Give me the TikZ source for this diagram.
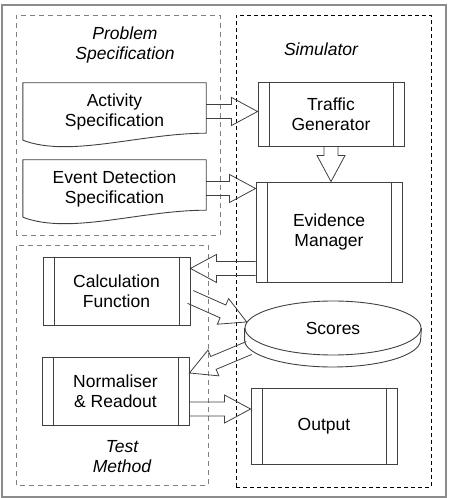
\documentclass[tikz,border=0pt]{standalone}
\usepackage{fontspec}
\setmainfont{Liberation Sans}
\usetikzlibrary{calc,shapes.geometric}

\tikzset{
  boxline/.style={draw=black!75, line width=0.9pt},
  procbox/.style={boxline, fill=white, align=center, inner sep=0pt,
    minimum width=146pt, minimum height=64pt,
    path picture={
      \draw[black!75, line width=0.9pt]
        ([xshift=11pt]path picture bounding box.north west) -- ([xshift=11pt]path picture bounding box.south west)
        ([xshift=-11pt]path picture bounding box.north east) -- ([xshift=-11pt]path picture bounding box.south east);
    }},
  docbox/.style={align=center, inner sep=0pt, minimum width=183pt, minimum height=57pt},
  grouplabel/.style={align=center, font=\fontsize{17.5}{20}\selectfont\itshape},
  fatarrow/.style={draw=black!75, line width=0.8pt, line join=miter},
}

% fat block arrow from #1 (tail) to #2 (tip)
\newcommand\blockarrow[2]{%
  \coordinate (ah) at ($(#2)!26pt!(#1)$);
  \draw[fatarrow] ($(#1)!7pt!90:(#2)$) -- ($(ah)!7pt!90:(#2)$) -- ($(ah)!14pt!90:(#2)$)
    -- (#2) -- ($(ah)!14pt!-90:(#2)$) -- ($(ah)!7pt!-90:(#2)$) -- ($(#1)!7pt!-90:(#2)$);
}
% document outline with wavy bottom
\newcommand\docshape[1]{%
  \draw[boxline] (#1.south west) -- (#1.north west) -- (#1.north east) -- ([yshift=7pt]#1.south east)
    .. controls +(-66,0) and +(47,-18) .. (#1.south west);
}

\begin{document}
\begin{tikzpicture}[x=1pt, y=1pt, font=\fontsize{17.5}{20}\selectfont]
\useasboundingbox (0,0) rectangle (448,498);
\draw[black!45, line width=1.8pt] (2,1) rectangle (446,493);

% groups
\draw[black!50, line width=0.9pt, dash pattern=on 5pt off 4pt] (16,263) rectangle (220,483);
\draw[black!50, line width=0.9pt, dash pattern=on 5pt off 4pt] (16,13) rectangle (208,253);
\draw[black, line width=0.7pt, dash pattern=on 4pt off 3pt] (236,11) rectangle (431,483);
\node[grouplabel] (pslabel) at (125,453) {Problem\\Specification};
\node[grouplabel] (simlabel) at (321,449) {Simulator};
\node[grouplabel] (tmlabel) at (122,41) {Test\\Method};

% problem specification
\node[docbox] (act) at (114.5,386.5) {Activity\\Specification};
\docshape{act}
\node[docbox] (evd) at (114.5,309.5) {Event Detection\\Specification};
\docshape{evd}

% simulator
\node[procbox] (traffic) at (331,384) {Traffic\\Generator};
\node[procbox, minimum height=100pt] (evm) at (329,266) {Evidence\\Manager};
\node[ellipse, boxline, fill=white, inner sep=0pt, minimum width=176pt, minimum height=54pt] (scores) at (333,170) {Scores};
\draw[boxline] (scores.west) -- ++(0,-12) arc[start angle=180, end angle=360, x radius=88, y radius=27] -- (scores.east);
\node[procbox, minimum height=76pt] (output) at (324,72) {Output};

% test method
\node[procbox, minimum width=147pt, minimum height=68pt] (calc) at (116.5,207) {Calculation\\Function};
\node[procbox, minimum width=147pt, minimum height=68pt] (norm) at (115.5,107) {Normaliser\\\& Readout};

% connectors
\coordinate (evmout) at ([yshift=14pt]evm.south west);
\coordinate (calcout) at ([yshift=-6pt]calc.east);
\coordinate (scorein) at (scores.176);
\coordinate (scoreout) at ([shift={(-84,-20)}]scores.center);
\coordinate (normin) at ([yshift=18pt]norm.east);
\coordinate (normout) at ([yshift=-18pt]norm.east);
\blockarrow{act.east}{act.east -| traffic.west}
\blockarrow{evd.east}{evd.east -| evm.west}
\blockarrow{traffic.south}{traffic.south |- evm.north}
\blockarrow{evmout}{evmout -| calc.east}
\blockarrow{calcout}{scorein}
\blockarrow{scoreout}{normin}
\blockarrow{normout}{normout -| output.west}
\end{tikzpicture}
\end{document}
